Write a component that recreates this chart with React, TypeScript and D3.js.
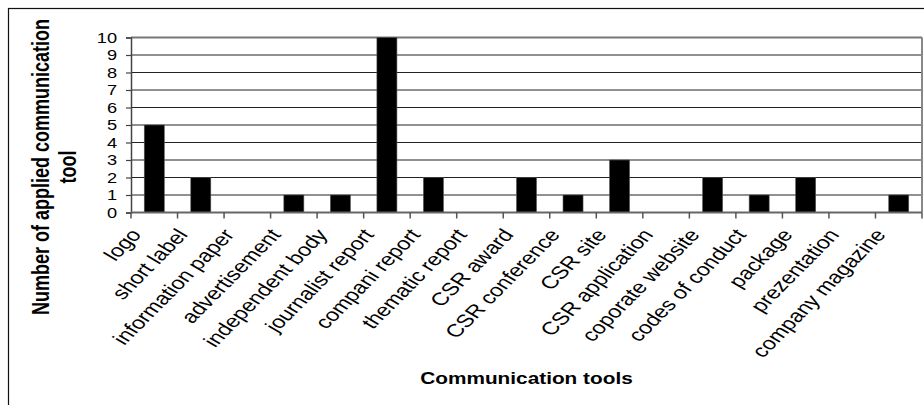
import React, { useEffect, useRef } from 'react';
import * as d3 from 'd3';

const W = 924;
const H = 405;

const categories = [
  'logo', 'short label', 'information paper', 'advertisement', 'independent body',
  'journalist report', 'compani report', 'thematic report', 'CSR award', 'CSR conference',
  'CSR site', 'CSR application', 'coporate website', 'codes of conduct', 'package',
  'prezentation', 'company magazine',
];
const counts = [5, 2, 0, 1, 1, 10, 2, 0, 2, 1, 3, 0, 2, 1, 2, 0, 1];
const yTicks = [0, 1, 2, 3, 4, 5, 6, 7, 8, 9, 10];

const plot = { left: 131, right: 922, top: 37.5, bottom: 212.5 };
const font = '"Liberation Sans", Arial, sans-serif';
// the original picture is stretched sideways, text included
const sx = 1.3;

export default function App() {
  const ref = useRef<SVGSVGElement>(null);

  useEffect(() => {
    const svg = d3.select(ref.current);
    svg.selectAll('*').remove();

    const x = d3.scaleBand<string>()
      .domain(categories)
      .range([plot.left, plot.right])
      .paddingInner(0.57)
      .paddingOuter(0.285);
    const step = x.step();

    const y = d3.scaleLinear()
      .domain([0, 10])
      .range([plot.bottom, plot.top]);

    // outer frame, runs off the right and bottom edges
    svg.append('rect')
      .attr('x', 8.5).attr('y', 8.5)
      .attr('width', 930).attr('height', 420)
      .attr('fill', 'white')
      .attr('stroke', '#111').attr('stroke-width', 1.2);

    // gridlines
    svg.append('g')
      .selectAll('line')
      .data(yTicks.filter((d) => d > 0))
      .enter().append('line')
      .attr('x1', plot.left).attr('x2', plot.right)
      .attr('y1', (d) => y(d)).attr('y2', (d) => y(d))
      .attr('stroke', (d) => (d === 10 ? '#777' : '#222'))
      .attr('stroke-width', (d) => (d === 10 ? 2 : 1));

    // right border of plot
    svg.append('line')
      .attr('x1', plot.right).attr('x2', plot.right)
      .attr('y1', plot.top).attr('y2', plot.bottom)
      .attr('stroke', '#888').attr('stroke-width', 2);

    // bars
    svg.append('g')
      .selectAll('rect')
      .data(categories)
      .enter().append('rect')
      .attr('x', (d) => x(d)!)
      .attr('width', x.bandwidth())
      .attr('y', (_, i) => y(counts[i]))
      .attr('height', (_, i) => plot.bottom - y(counts[i]))
      .attr('fill', '#000')
      .attr('stroke', '#555').attr('stroke-width', 0.6);

    // y axis
    const yAxis = svg.append('g')
      .attr('transform', `translate(${plot.left},0)`)
      .call(d3.axisLeft(y).tickValues(yTicks).tickSize(5).tickFormat(() => ''));
    yAxis.select('.domain').attr('stroke', '#444').attr('stroke-width', 1.5);
    yAxis.selectAll('.tick line').attr('stroke', '#444').attr('stroke-width', 1.2);

    svg.append('g')
      .selectAll('text')
      .data(yTicks)
      .enter().append('text')
      .attr('transform', (d) => `translate(117,${y(d)}) scale(${sx},1)`)
      .attr('dy', '0.36em')
      .attr('text-anchor', 'end')
      .style('font-family', font)
      .style('font-size', '14px')
      .attr('fill', '#000')
      .text((d) => d);

    // x axis line and ticks at category boundaries
    svg.append('line')
      .attr('x1', plot.left).attr('x2', plot.right)
      .attr('y1', plot.bottom).attr('y2', plot.bottom)
      .attr('stroke', '#666').attr('stroke-width', 2);
    svg.append('g')
      .selectAll('line')
      .data(d3.range(categories.length + 1))
      .enter().append('line')
      .attr('x1', (i) => plot.left + i * step)
      .attr('x2', (i) => plot.left + i * step)
      .attr('y1', plot.bottom).attr('y2', plot.bottom + 6)
      .attr('stroke', '#555').attr('stroke-width', 1.5);

    // rotated category labels (45 degrees after the sideways stretch)
    const rot = (Math.atan(sx) * 180) / Math.PI;
    svg.append('g')
      .selectAll('text')
      .data(categories)
      .enter().append('text')
      .attr('transform', (d) =>
        `translate(${x(d)! + x.bandwidth() / 2 - 12},235) scale(${sx},1) rotate(${-rot})`)
      .attr('text-anchor', 'end')
      .style('font-family', font)
      .style('font-size', '18px')
      .attr('fill', '#000')
      .text((d) => d);

    // axis titles
    svg.append('text')
      .attr('transform', `translate(${(plot.left + plot.right) / 2},384) scale(${sx},1)`)
      .attr('text-anchor', 'middle')
      .style('font-family', font)
      .style('font-size', '16px')
      .style('font-weight', 'bold')
      .text('Communication tools');

    const yTitle = svg.append('text')
      .attr('transform', `translate(49,167) scale(${sx},1) rotate(-90)`)
      .attr('text-anchor', 'middle')
      .style('font-family', font)
      .style('font-size', '18px')
      .style('font-weight', 'bold');
    yTitle.append('tspan').attr('x', 0).attr('y', 0).text('Number of applied communication');
    yTitle.append('tspan').attr('x', 0).attr('y', 20.7).text('tool');
  }, []);

  return (
    <svg
      ref={ref}
      width={W}
      height={H}
      style={{ position: 'absolute', left: 0, top: 0, background: '#fff' }}
    />
  );
}
